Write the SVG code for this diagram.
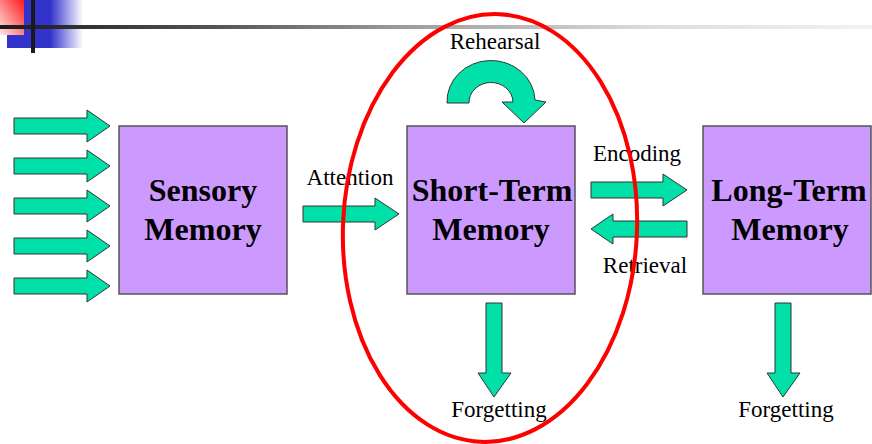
<svg xmlns="http://www.w3.org/2000/svg" width="872" height="444" viewBox="0 0 872 444">
  <defs>
    <linearGradient id="redFade" x1="1" y1="0" x2="0" y2="1">
      <stop offset="0" stop-color="#FF1A1A"/>
      <stop offset="1" stop-color="#FFE6E6"/>
    </linearGradient>
    <linearGradient id="blueFade" x1="0" y1="0" x2="1" y2="0">
      <stop offset="0" stop-color="#3333CC"/>
      <stop offset="0.57" stop-color="#3333CC"/>
      <stop offset="1" stop-color="#3333CC" stop-opacity="0"/>
    </linearGradient>
    <linearGradient id="ruleFade" x1="0" y1="0" x2="1" y2="0">
      <stop offset="0" stop-color="#1A1A1A"/>
      <stop offset="0.25" stop-color="#555555"/>
      <stop offset="0.45" stop-color="#999999"/>
      <stop offset="0.75" stop-color="#DDDDDD"/>
      <stop offset="1" stop-color="#F2F2F2"/>
    </linearGradient>
  </defs>
  <style>
    .box { fill: #CC99FF; stroke: #555555; stroke-width: 1.5; }
    .title { font-family: "Liberation Serif", "Times New Roman", serif; font-weight: bold; font-size: 32px; fill: #000000; text-anchor: middle; }
    .label { font-family: "Liberation Serif", "Times New Roman", serif; font-size: 23px; fill: #000000; text-anchor: middle; }
    .arrow { fill: #00E0A8; stroke: #333333; stroke-width: 1; stroke-linejoin: miter; }
  </style>

  <!-- header decoration -->
  <g id="header">
    <rect x="7" y="0" width="76" height="48" fill="url(#blueFade)"/>
    <rect x="0" y="0" width="24" height="35" fill="url(#redFade)"/>
    <rect x="0" y="25" width="872" height="4" fill="url(#ruleFade)"/>
    <rect x="31" y="0" width="4" height="53" fill="#1A1A1A"/>
  </g>

  <!-- memory stores -->
  <g id="sensory">
    <rect class="box" x="119" y="126" width="168" height="168"/>
    <text class="title" x="203" y="201">Sensory</text>
    <text class="title" x="203" y="240">Memory</text>
  </g>
  <g id="short-term">
    <rect class="box" x="407" y="126" width="168" height="168"/>
    <text class="title" x="492" y="201">Short-Term</text>
    <text class="title" x="491" y="240">Memory</text>
  </g>
  <g id="long-term">
    <rect class="box" x="703" y="126" width="168" height="168"/>
    <text class="title" x="789" y="201">Long-Term</text>
    <text class="title" x="790" y="240">Memory</text>
  </g>

  <!-- connectors -->
  <g id="connectors">
    <!-- sensory inputs -->
    <path class="arrow" d="M14,118 H87 V110 L110,126 L87,142 V134 H14 Z"/>
    <path class="arrow" d="M14,158 H87 V150 L110,166 L87,182 V174 H14 Z"/>
    <path class="arrow" d="M14,198 H87 V190 L110,206 L87,222 V214 H14 Z"/>
    <path class="arrow" d="M14,238 H87 V230 L110,246 L87,262 V254 H14 Z"/>
    <path class="arrow" d="M14,278 H87 V270 L110,286 L87,302 V294 H14 Z"/>
    <!-- attention -->
    <path class="arrow" d="M303,206 H375 V198 L399,214 L375,230 V222 H303 Z"/>
    <!-- encoding -->
    <path class="arrow" d="M591,182 H663 V174 L687,190 L663,206 V198 H591 Z"/>
    <!-- retrieval -->
    <path class="arrow" d="M687,221 H613 V214 L591,229 L613,244 V237 H687 Z"/>
    <!-- rehearsal loop -->
    <path class="arrow" d="M447,103 A44,41 0 0 1 535,100 L546,102 L524,123 L502,102 L513,102 A22,20 0 0 0 469,103 Z"/>
    <!-- forgetting -->
    <path class="arrow" d="M486,303 H502 V373 H511 L494,397 L478,373 H486 Z"/>
    <path class="arrow" d="M775,303 H791 V373 H800 L783,397 L767,373 H775 Z"/>
  </g>

  <!-- connector labels -->
  <g id="labels">
    <text class="label" x="495" y="49">Rehearsal</text>
    <text class="label" x="350" y="185">Attention</text>
    <text class="label" x="637" y="161">Encoding</text>
    <text class="label" x="645" y="273">Retrieval</text>
    <text class="label" x="499" y="417">Forgetting</text>
    <text class="label" x="786" y="417">Forgetting</text>
  </g>

  <!-- working-memory highlight -->
  <g id="highlight">
    <ellipse cx="490" cy="228" rx="147" ry="214" fill="none" stroke="#FF0000" stroke-width="4" transform="rotate(2.5 490 228)"/>
  </g>
</svg>
